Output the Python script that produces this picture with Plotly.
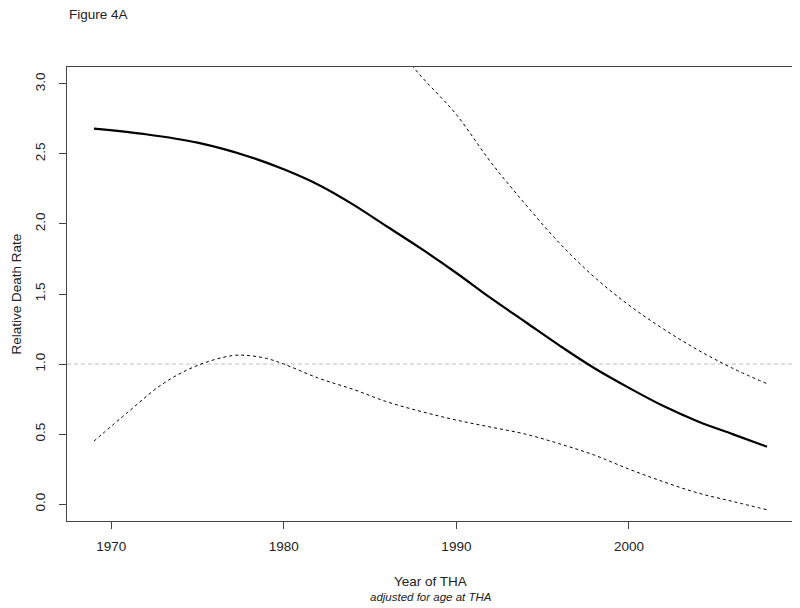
import plotly.graph_objects as go

# fitted relative death rate and confidence band
years_fit = [1969, 1972, 1975, 1978, 1980, 1982, 1984, 1986, 1988, 1990,
             1992, 1994, 1996, 1998, 2000, 2002, 2004, 2006, 2008]
rate_fit = [2.68, 2.64, 2.58, 2.48, 2.39, 2.28, 2.14, 1.98, 1.82, 1.65,
            1.47, 1.30, 1.13, 0.97, 0.83, 0.70, 0.59, 0.50, 0.41]

years_lo = [1969, 1971, 1973, 1975, 1977, 1978, 1979, 1980, 1982, 1984, 1986,
            1988, 1990, 1992, 1994, 1996, 1998, 2000, 2002, 2004, 2006, 2008]
rate_lo = [0.45, 0.66, 0.86, 0.99, 1.06, 1.06, 1.04, 1.00, 0.90, 0.82, 0.73,
           0.66, 0.60, 0.55, 0.50, 0.43, 0.35, 0.25, 0.16, 0.08, 0.02, -0.04]

years_hi = [1985, 1987.5, 1990, 1992, 1994, 1996, 1998, 2000, 2002, 2004, 2006, 2008]
rate_hi = [3.55, 3.12, 2.78, 2.44, 2.14, 1.86, 1.62, 1.42, 1.25, 1.10, 0.97, 0.86]

x_ticks = [1970, 1980, 1990, 2000]
y_ticks = [0.0, 0.5, 1.0, 1.5, 2.0, 2.5, 3.0]

FONT = "Liberation Sans, Arial, sans-serif"
INK = "#222222"

fig = go.Figure()

# reference line at 1
fig.add_trace(go.Scatter(
    x=[1967.44, 2009.56], y=[1, 1], mode="lines",
    line=dict(color="#bdbdbd", width=1, dash="4px,3px"), hoverinfo="skip"
))
fig.add_trace(go.Scatter(
    x=years_hi, y=rate_hi, mode="lines",
    line=dict(color="black", width=1, dash="3px,3px", shape="spline")
))
fig.add_trace(go.Scatter(
    x=years_lo, y=rate_lo, mode="lines",
    line=dict(color="black", width=1, dash="3px,3px", shape="spline")
))
fig.add_trace(go.Scatter(
    x=years_fit, y=rate_fit, mode="lines",
    line=dict(color="black", width=2.2, shape="spline")
))

# page body has an 8px margin, so the figure is 8px smaller on each side
fig.update_layout(
    width=792, height=600,
    paper_bgcolor="white", plot_bgcolor="white",
    margin=dict(l=59, r=6, t=59, b=87, autoexpand=False),
    showlegend=False,
    font=dict(family=FONT, size=13, color=INK),
    xaxis=dict(
        range=[1967.44, 2009.56], tickvals=x_ticks, automargin=False,
        showgrid=False, zeroline=False,
        showline=True, mirror=True, linecolor="#444444", linewidth=1,
        ticks="outside", ticklen=7, tickcolor="#444444",
        ticklabelstandoff=6,
        tickfont=dict(size=13.5, color=INK),
    ),
    yaxis=dict(
        range=[-0.12, 3.12], tickvals=y_ticks, ticktext=[f"{v:.1f}" for v in y_ticks],
        tickangle=-90, automargin=False,
        showgrid=False, zeroline=False,
        showline=True, mirror=True, linecolor="#444444", linewidth=1,
        ticks="outside", ticklen=7, tickcolor="#444444",
        ticklabelstandoff=9,
        tickfont=dict(size=13.5, color=INK),
    ),
    annotations=[
        dict(text="Figure 4A", xref="paper", yref="paper", x=0.0, y=1.1156,
             xanchor="left", yanchor="middle", showarrow=False,
             font=dict(size=13.5, color=INK)),
        dict(text="Year of THA", xref="paper", yref="paper", x=0.5, y=-0.134,
             xanchor="center", yanchor="middle", showarrow=False,
             font=dict(size=13.5, color=INK)),
        dict(text="<i>adjusted for age at THA</i>", xref="paper", yref="paper",
             x=0.5, y=-0.167, xanchor="center", yanchor="middle", showarrow=False,
             font=dict(size=11.5, color=INK)),
        dict(text="Relative Death Rate", xref="paper", yref="paper", x=-0.0708, y=0.5,
             xanchor="center", yanchor="middle", textangle=-90, showarrow=False,
             font=dict(size=13.5, color=INK)),
    ],
)

fig.write_html("out.html")
